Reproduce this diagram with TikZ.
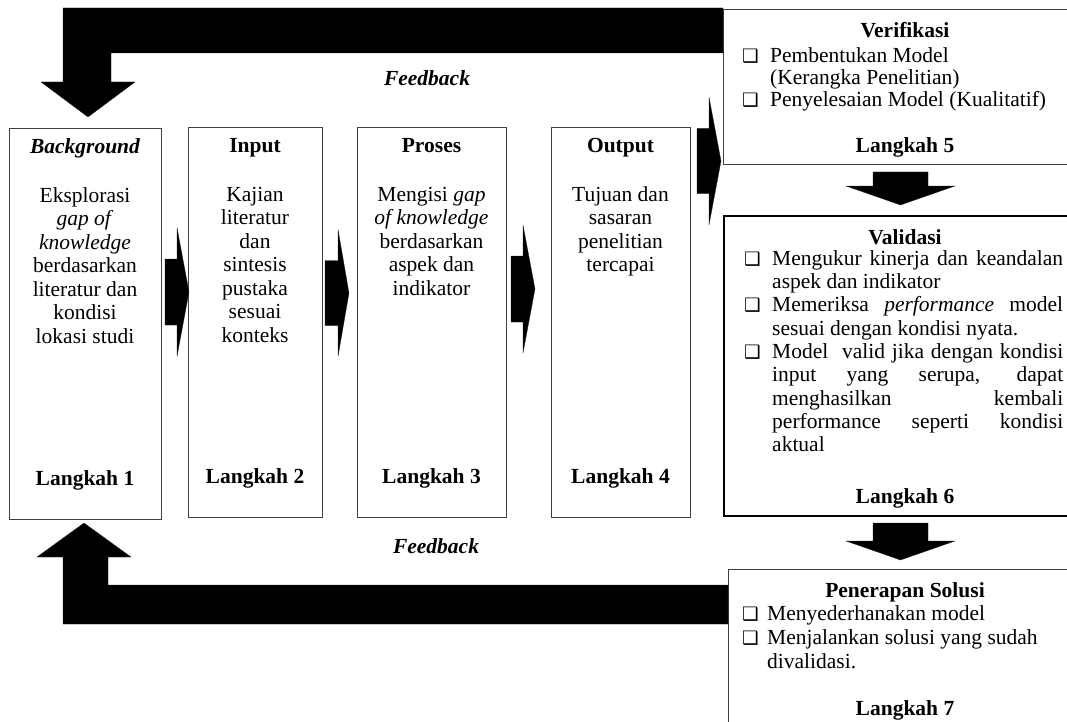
\documentclass[tikz,border=0pt]{standalone}
\usepackage{fontspec}
\setmainfont{Liberation Serif}
\newfontfamily\dingfont{DejaVu Sans}
% square bullet used in the lists
\newcommand\sqb{{\dingfont\fontsize{18.5}{18.5}\selectfont ❑}}
% block arrow pointing right: shaft left x, head base x, tip x, middle y, shaft half height, head half height
\newcommand\rightblock[6]{%
  \fill[blockarrow] (#1,#4-#5) -- (#2,#4-#5) -- (#2,#4-#6) -- (#3,#4)
    -- (#2,#4+#6) -- (#2,#4+#5) -- (#1,#4+#5) -- cycle;}
% block arrow pointing down: middle x, shaft top y, head base y, tip y, shaft half width, head half width
\newcommand\downblock[6]{%
  \fill[blockarrow] (#1-#5,#2) -- (#1+#5,#2) -- (#1+#5,#3) -- (#1+#6,#3)
    -- (#1,#4) -- (#1-#6,#3) -- (#1-#5,#3) -- cycle;}
\begin{document}
\begin{tikzpicture}[x=1pt,y=-1pt,
  stepbox/.style={draw=black!75, line width=0.9pt, fill=white, inner sep=0pt, anchor=north west},
  keybox/.style={stepbox, draw=black, line width=1.8pt},
  blockarrow/.style={fill=black, draw=black!85, line width=0.3pt, line join=miter},
  steptitle/.style={font=\bfseries\fontsize{21.5}{23.5}\selectfont, anchor=base, inner sep=0pt},
  stepbody/.style={font=\fontsize{21.5}{23.5}\selectfont, align=center, anchor=north, inner sep=0pt},
  steplist/.style={font=\fontsize{21.5}{23.3}\selectfont, align=left, anchor=north west, inner sep=0pt},
  fbtext/.style={font=\bfseries\itshape\fontsize{21.5}{23.5}\selectfont, anchor=base, inner sep=0pt},
]
\useasboundingbox (0,0) rectangle (1067,722);
\clip (0,0) rectangle (1067,722);

% step boxes
\node[stepbox, minimum width=152pt, minimum height=391pt] (b1) at (9,128) {};
\node[stepbox, minimum width=134pt, minimum height=390pt] (b2) at (188,127) {};
\node[stepbox, minimum width=149pt, minimum height=390pt] (b3) at (357,127) {};
\node[stepbox, minimum width=139pt, minimum height=390pt] (b4) at (551,127) {};
\node[stepbox, minimum width=360pt, minimum height=155pt] (b5) at (723,9) {};
\node[keybox, minimum width=360pt, minimum height=300pt] (b6) at (723,215) {};
\node[stepbox, minimum width=360pt, minimum height=200pt] (b7) at (728,569) {};

% feedback loops
\fill[blockarrow] (b5.west |- 0,8) -- (63,8) -- (63,82) -- (41,82) -- (88,117)
  -- (135,82) -- (111,82) -- (111,53) -- (b5.west |- 0,53) -- cycle;
\fill[blockarrow] (b7.west |- 0,624) -- (63,624) -- (63,557) -- (37,557) -- (84,523)
  -- (131,557) -- (108,557) -- (108,585) -- (b7.west |- 0,585) -- cycle;
\node[fbtext] (f1) at (427,86) {Feedback};
\node[fbtext] (f2) at (436,553) {Feedback};

% arrows between the steps
\rightblock{165}{177}{189}{292}{33}{64.5}
\rightblock{325}{338}{349}{293}{32.5}{63.5}
\rightblock{511}{523}{535}{289}{33}{64}
\rightblock{697}{709}{721}{161}{32.5}{64}
\downblock{900.5}{172}{186}{205}{27.5}{54.5}
\downblock{900.5}{523}{541}{560}{27.5}{54.5}

% step 1 to 4
\node[steptitle, font=\bfseries\itshape\fontsize{21.5}{23.5}\selectfont] (t1) at (85,154) {Background};
\node[steptitle] (t2) at (255,153) {Input};
\node[steptitle] (t3) at (431.5,153) {Proses};
\node[steptitle] (t4) at (620.5,153) {Output};

\node[stepbody] (d1) at (85,186) {\rule{0pt}{16pt}Eksplorasi\\\textit{gap of}\\\textit{knowledge}\\berdasarkan\\literatur dan\\kondisi\\lokasi studi};
\node[stepbody] (d2) at (255,185) {\rule{0pt}{16pt}Kajian\\literatur\\dan\\sintesis\\pustaka\\sesuai\\konteks};
\node[stepbody] (d3) at (431.5,185) {\rule{0pt}{16pt}Mengisi \textit{gap}\\\textit{of knowledge}\\berdasarkan\\aspek dan\\indikator};
\node[stepbody] (d4) at (620.5,185) {\rule{0pt}{16pt}Tujuan dan\\sasaran\\penelitian\\tercapai};

\node[steptitle] (l1) at (85,485) {Langkah 1};
\node[steptitle] (l2) at (255,483) {Langkah 2};
\node[steptitle] (l3) at (431.5,483) {Langkah 3};
\node[steptitle] (l4) at (620.5,483) {Langkah 4};

% step 5
\node[steptitle] (t5) at (905,38) {Verifikasi};
\node[steplist, font=\fontsize{21.5}{22}\selectfont] (d5) at (742,46) {\rule{0pt}{16pt}\makebox[28pt][l]{\sqb}Pembentukan Model\\
\hspace*{28pt}(Kerangka Penelitian)\\
\makebox[28pt][l]{\sqb}Penyelesaian Model (Kualitatif)};
\node[steptitle] (l5) at (905,153) {Langkah 5};

% step 6
\node[steptitle] (t6) at (905,244) {Validasi};
\node[steplist] (d6) at (744,249) {\rule{0pt}{16pt}\makebox[28pt][l]{\sqb}\makebox[291pt][s]{Mengukur kinerja dan keandalan}\\
\hspace*{28pt}aspek dan indikator\\
\makebox[28pt][l]{\sqb}\makebox[291pt][s]{Memeriksa \textit{performance} model}\\
\hspace*{28pt}sesuai dengan kondisi nyata.\\
\makebox[28pt][l]{\sqb}\makebox[291pt][s]{Model\ \ valid jika dengan kondisi}\\
\hspace*{28pt}\makebox[291pt][s]{input yang serupa, dapat}\\
\hspace*{28pt}\makebox[291pt][s]{menghasilkan kembali}\\
\hspace*{28pt}\makebox[291pt][s]{performance seperti kondisi}\\
\hspace*{28pt}aktual};
\node[steptitle] (l6) at (905,503) {Langkah 6};

% step 7
\node[steptitle] (t7) at (905,597) {Penerapan Solusi};
\node[steplist, font=\fontsize{21.5}{24}\selectfont] (d7) at (742,604) {\rule{0pt}{16pt}\makebox[25pt][l]{\sqb}Menyederhanakan model\\
\makebox[25pt][l]{\sqb}Menjalankan solusi yang sudah\\
\hspace*{25pt}divalidasi.};
\node[steptitle] (l7) at (905,715) {Langkah 7};
\end{tikzpicture}
\end{document}
